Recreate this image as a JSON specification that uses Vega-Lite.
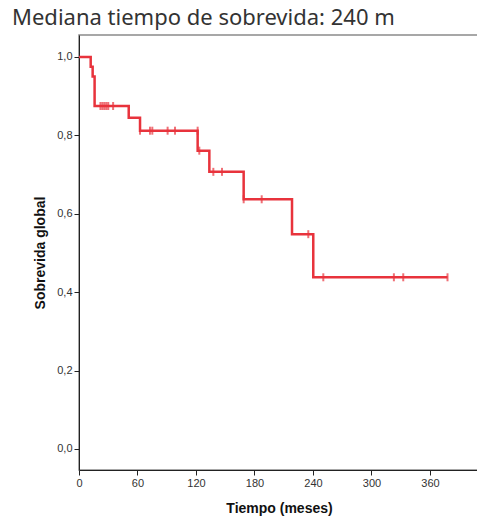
{
  "$schema": "https://vega.github.io/schema/vega-lite/v6.json",
  "autosize": "none",
  "padding": {"left": 79, "top": 35, "right": 0, "bottom": 47},
  "width": 400,
  "height": 435,
  "background": "white",
  "config": {
    "view": {"stroke": "#8a8a8a", "strokeWidth": 1.5},
    "axis": {"grid": false, "labelFlush": false, "domainColor": "#222", "tickColor": "#222", "labelColor": "#333", "labelFont": "Liberation Sans", "labelFontSize": 11, "titleFont": "Liberation Sans", "titleFontSize": 14, "titleFontWeight": "bold", "titleColor": "#111", "tickSize": 5}
  },
  "title": {"text": "Mediana tiempo de sobrevida: 240 m", "anchor": "start", "frame": "group", "dx": -67, "offset": 5, "font": "Noto Sans", "fontSize": 22, "fontWeight": "normal", "color": "#333"},
  "datasets": {
    "curve": [
      {"t": 0, "s": 1.0},
      {"t": 12, "s": 0.975},
      {"t": 14, "s": 0.95},
      {"t": 16, "s": 0.875},
      {"t": 51, "s": 0.845},
      {"t": 62.6, "s": 0.812},
      {"t": 121.7, "s": 0.761},
      {"t": 133.7, "s": 0.707},
      {"t": 168.9, "s": 0.637},
      {"t": 218.5, "s": 0.548},
      {"t": 240.3, "s": 0.438},
      {"t": 378, "s": 0.438}
    ],
    "censor": [
      {"t": 22, "s": 0.875}, {"t": 24, "s": 0.875}, {"t": 26, "s": 0.875}, {"t": 28, "s": 0.875}, {"t": 30, "s": 0.875}, {"t": 35, "s": 0.875},
      {"t": 62.6, "s": 0.812}, {"t": 72.8, "s": 0.812}, {"t": 75.2, "s": 0.812}, {"t": 90.9, "s": 0.812}, {"t": 98.5, "s": 0.812}, {"t": 121.7, "s": 0.812},
      {"t": 123.4, "s": 0.761},
      {"t": 137.8, "s": 0.707}, {"t": 146.7, "s": 0.707},
      {"t": 168.9, "s": 0.637}, {"t": 187.4, "s": 0.637},
      {"t": 235.2, "s": 0.548},
      {"t": 250.6, "s": 0.438}, {"t": 323, "s": 0.438}, {"t": 332.6, "s": 0.438}, {"t": 378, "s": 0.438}
    ]
  },
  "encoding": {
    "x": {"field": "t", "type": "quantitative", "scale": {"domain": [0, 410.3], "nice": false, "zero": false},
      "axis": {"values": [0, 60, 120, 180, 240, 300, 360], "title": "Tiempo (meses)", "titlePadding": 13, "labelPadding": 2}},
    "y": {"field": "s", "type": "quantitative", "scale": {"domain": [-0.0536, 1.0561], "nice": false, "zero": false},
      "axis": {"values": [0, 0.2, 0.4, 0.6, 0.8, 1.0], "labelExpr": "replace(format(datum.value, '.1f'), '.', ',')", "title": "Sobrevida global", "titlePadding": 9, "labelPadding": 2}}
  },
  "layer": [
    {"data": {"name": "curve"}, "mark": {"type": "line", "interpolate": "step-after", "color": "#e8333c", "strokeWidth": 2.5}},
    {"data": {"name": "censor"}, "mark": {"type": "tick", "orient": "vertical", "color": "#e8333c", "size": 8, "thickness": 2}}
  ]
}
